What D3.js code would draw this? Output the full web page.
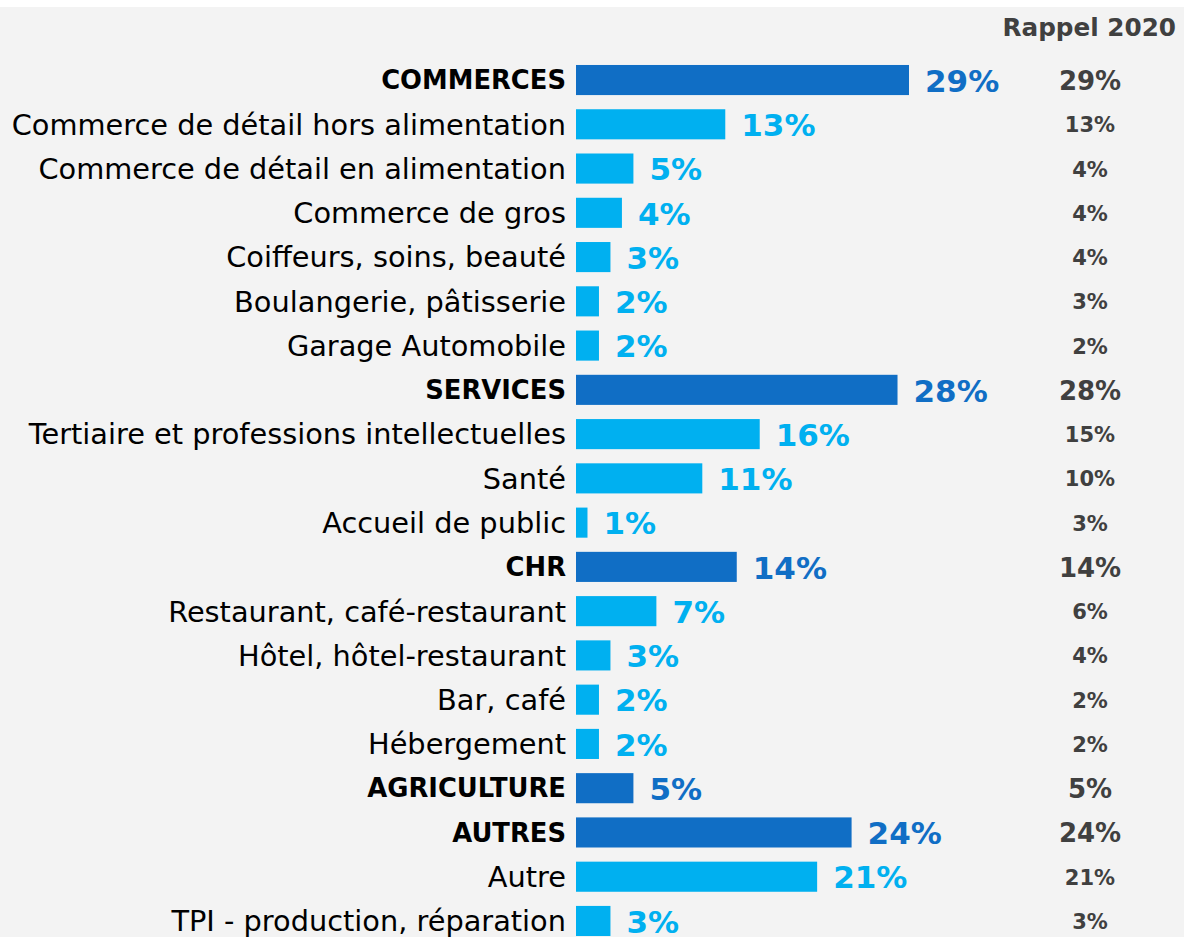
<!DOCTYPE html>
<html>
<head>
<meta charset="utf-8">
<script src="https://cdn.jsdelivr.net/npm/d3@7"></script>
<style>
  html, body { margin: 0; padding: 0; background: #fff; }
  svg { display: block; }
</style>
</head>
<body>
<svg width="1184" height="937"></svg>
<script>
// rows of the chart, top to bottom
const labels = [
  "COMMERCES",
  "Commerce de détail hors alimentation",
  "Commerce de détail en alimentation",
  "Commerce de gros",
  "Coiffeurs, soins, beauté",
  "Boulangerie, pâtisserie",
  "Garage Automobile",
  "SERVICES",
  "Tertiaire et professions intellectuelles",
  "Santé",
  "Accueil de public",
  "CHR",
  "Restaurant, café-restaurant",
  "Hôtel, hôtel-restaurant",
  "Bar, café",
  "Hébergement",
  "AGRICULTURE",
  "AUTRES",
  "Autre",
  "TPI - production, réparation"
];
const isGroup = [1,0,0,0,0,0,0, 1,0,0,0, 1,0,0,0,0, 1, 1,0,0];
const values2021 = [29,13,5,4,3,2,2, 28,16,11,1, 14,7,3,2,2, 5, 24,21,3];
const rappel2020 = [29,13,4,4,4,3,2, 28,15,10,3, 14,6,4,2,2, 5, 24,21,3];

const svg = d3.select("svg");
const W = 1184, H = 937;

svg.append("rect").attr("x",0).attr("y",7).attr("width",W).attr("height",H-7).attr("fill","#f3f3f3");

const x0 = 576;
const x = d3.scaleLinear().domain([0,29]).range([0,333]);
const y = d3.scaleBand()
  .domain(d3.range(labels.length))
  .range([57.9, 57.9 + 44.26*labels.length])
  .paddingInner(0.32)
  .paddingOuter(0.16);

const darkBlue = "#106ec5", lightBlue = "#00b0f0", grey = "#404040";

svg.append("text")
  .attr("x", 1176).attr("y", 36)
  .attr("text-anchor","end")
  .attr("font-family","DejaVu Sans")
  .attr("font-weight","bold")
  .attr("font-size",24.7)
  .attr("fill",grey)
  .text("Rappel 2020");

const rows = svg.selectAll(".row")
  .data(labels.map((l,i) => i))
  .enter().append("g")
  .attr("class","row");

rows.append("rect")
  .attr("x", x0)
  .attr("y", i => y(i))
  .attr("width", i => x(values2021[i]))
  .attr("height", y.bandwidth())
  .attr("fill", i => isGroup[i] ? darkBlue : lightBlue);

rows.append("text")
  .attr("x", x0 - 10)
  .attr("y", i => y(i) + y.bandwidth()/2)
  .attr("dy","0.36em")
  .attr("text-anchor","end")
  .attr("font-family","DejaVu Sans")
  .attr("font-weight", i => isGroup[i] ? "bold" : "normal")
  .attr("font-size", i => isGroup[i] ? 25.8 : 28.8)
  .attr("fill","#000")
  .text(i => labels[i]);

rows.append("text")
  .attr("x", i => x0 + x(values2021[i]) + 16)
  .attr("y", i => y(i) + y.bandwidth()/2)
  .attr("dy","0.38em")
  .attr("font-family","DejaVu Sans")
  .attr("font-weight","bold")
  .attr("font-size",31)
  .attr("fill", i => isGroup[i] ? darkBlue : lightBlue)
  .text(i => values2021[i] + "%");

rows.append("text")
  .attr("x", 1090)
  .attr("y", i => y(i) + y.bandwidth()/2)
  .attr("dy","0.38em")
  .attr("text-anchor","middle")
  .attr("font-family","DejaVu Sans")
  .attr("font-weight","bold")
  .attr("font-size", i => isGroup[i] ? 26 : 21)
  .attr("fill",grey)
  .text(i => rappel2020[i] + "%");
</script>
</body>
</html>
